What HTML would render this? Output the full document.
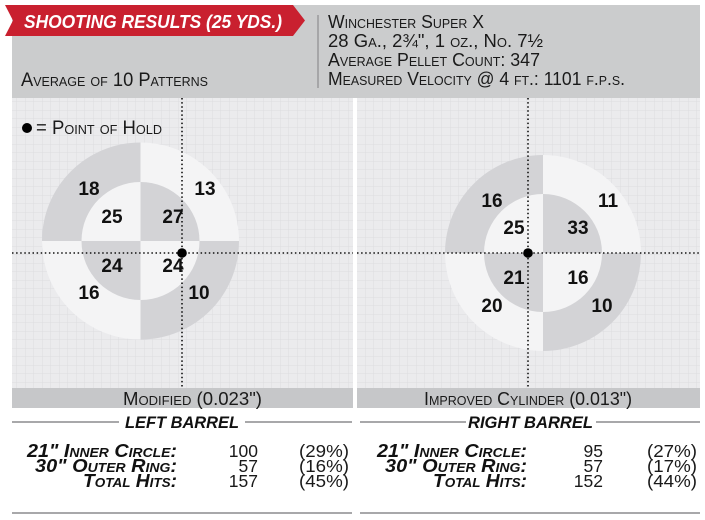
<!DOCTYPE html>
<html><head><meta charset="utf-8"><style>
html,body{margin:0;padding:0;background:#fff;}
svg{display:block;}
text{font-family:"Liberation Sans",Arial,sans-serif;}
.sc{font-variant:small-caps;}
</style></head><body>
<svg width="705" height="520" viewBox="0 0 705 520" xmlns="http://www.w3.org/2000/svg">
<defs>
<pattern id="grid" width="8.5" height="8.5" patternUnits="userSpaceOnUse">
<rect width="8.5" height="8.5" fill="#ebebed"/>
<path d="M8.5 0V8.5M0 8.5H8.5" stroke="#dcdce0" stroke-width="1" fill="none"/>
</pattern>
</defs>
<rect width="705" height="520" fill="#fff"/>
<!-- header gray -->
<rect x="12" y="5" width="688" height="93" fill="#cbcccd"/>
<polygon points="5,5 293,5 305,20.5 293,36 5,36 13,20.5" fill="#c9202f"/>
<text x="24" y="28" fill="#fff" font-weight="bold" font-style="italic" font-size="18" textLength="258" lengthAdjust="spacingAndGlyphs">SHOOTING RESULTS (25 YDS.)</text>
<text class="sc" x="21" y="86" fill="#1a1a1a" font-size="19" textLength="187" lengthAdjust="spacingAndGlyphs">Average of 10 Patterns</text>
<line x1="318" y1="15" x2="318" y2="88" stroke="#9a9a9c" stroke-width="1.5"/>
<g class="sc" fill="#1a1a1a" font-size="18.5">
<text x="328" y="28" textLength="156" lengthAdjust="spacingAndGlyphs">Winchester Super X</text>
<text x="328" y="47" textLength="215" lengthAdjust="spacingAndGlyphs">28 Ga., 2¾", 1 oz., No. 7½</text>
<text x="328" y="66" textLength="212" lengthAdjust="spacingAndGlyphs">Average Pellet Count: 347</text>
<text x="328" y="85" textLength="297" lengthAdjust="spacingAndGlyphs">Measured Velocity @ 4 ft.: 1101 f.p.s.</text>
</g>
<!-- grid panels -->
<rect x="12" y="98" width="341" height="290" fill="url(#grid)"/>
<rect x="357" y="98" width="343" height="290" fill="url(#grid)"/>
<!-- left target -->
<g>
<path d="M140.5 241 L42 241 A98.5 98.5 0 0 1 140.5 142.5 Z" fill="#d3d3d6"/>
<path d="M140.5 241 L140.5 142.5 A98.5 98.5 0 0 1 239 241 Z" fill="#f4f4f5"/>
<path d="M140.5 241 L239 241 A98.5 98.5 0 0 1 140.5 339.5 Z" fill="#d3d3d6"/>
<path d="M140.5 241 L140.5 339.5 A98.5 98.5 0 0 1 42 241 Z" fill="#f4f4f5"/>
<path d="M140.5 241 L81.5 241 A59 59 0 0 1 140.5 182 Z" fill="#f4f4f5"/>
<path d="M140.5 241 L140.5 182 A59 59 0 0 1 199.5 241 Z" fill="#d3d3d6"/>
<path d="M140.5 241 L199.5 241 A59 59 0 0 1 140.5 300 Z" fill="#f4f4f5"/>
<path d="M140.5 241 L140.5 300 A59 59 0 0 1 81.5 241 Z" fill="#d3d3d6"/>
</g>
<!-- right target -->
<g>
<path d="M543 253 L445 253 A98 98 0 0 1 543 155 Z" fill="#d3d3d6"/>
<path d="M543 253 L543 155 A98 98 0 0 1 641 253 Z" fill="#f4f4f5"/>
<path d="M543 253 L641 253 A98 98 0 0 1 543 351 Z" fill="#d3d3d6"/>
<path d="M543 253 L543 351 A98 98 0 0 1 445 253 Z" fill="#f4f4f5"/>
<path d="M543 253 L484 253 A59 59 0 0 1 543 194 Z" fill="#f4f4f5"/>
<path d="M543 253 L543 194 A59 59 0 0 1 602 253 Z" fill="#d3d3d6"/>
<path d="M543 253 L602 253 A59 59 0 0 1 543 312 Z" fill="#f4f4f5"/>
<path d="M543 253 L543 312 A59 59 0 0 1 484 253 Z" fill="#d3d3d6"/>
</g>
<!-- target numbers -->
<g font-weight="bold" font-size="19" fill="#111" text-anchor="middle">
<text x="89" y="195">18</text>
<text x="205" y="195">13</text>
<text x="112" y="223">25</text>
<text x="173" y="223">27</text>
<text x="112" y="272">24</text>
<text x="173" y="272">24</text>
<text x="89" y="299">16</text>
<text x="199" y="299">10</text>
<text x="492" y="207">16</text>
<text x="608" y="207">11</text>
<text x="514" y="234">25</text>
<text x="578" y="234">33</text>
<text x="514" y="284">21</text>
<text x="578" y="284">16</text>
<text x="492" y="312">20</text>
<text x="602" y="312">10</text>
</g>
<!-- dotted crosshairs -->
<g stroke="#111" stroke-width="1.6" stroke-dasharray="1.5 2.6" fill="none">
<line x1="182" y1="98" x2="182" y2="388"/>
<line x1="12" y1="253" x2="353" y2="253"/>
<line x1="528" y1="98" x2="528" y2="388"/>
<line x1="357" y1="253" x2="700" y2="253"/>
</g>
<circle cx="182" cy="253" r="4.8" fill="#000"/>
<circle cx="528" cy="253" r="4.8" fill="#000"/>
<!-- point of hold legend -->
<circle cx="27" cy="128" r="5" fill="#000"/>
<text class="sc" x="36" y="134" font-size="19" fill="#1a1a1a" textLength="126" lengthAdjust="spacingAndGlyphs">= Point of Hold</text>
<!-- label bars -->
<rect x="12" y="388" width="341" height="20" fill="#c6c7c9"/>
<rect x="357" y="388" width="343" height="20" fill="#c6c7c9"/>
<text class="sc" x="192.5" y="405" font-size="18.5" fill="#1a1a1a" text-anchor="middle" textLength="139" lengthAdjust="spacingAndGlyphs">Modified (0.023")</text>
<text class="sc" x="528" y="405" font-size="18.5" fill="#1a1a1a" text-anchor="middle" textLength="208" lengthAdjust="spacingAndGlyphs">Improved Cylinder (0.013")</text>
<!-- barrel headings -->
<g stroke="#8c8c8e" stroke-width="1.5">
<line x1="12" y1="422" x2="119" y2="422"/>
<line x1="245" y1="422" x2="352" y2="422"/>
<line x1="360" y1="422" x2="466" y2="422"/>
<line x1="596" y1="422" x2="700" y2="422"/>
<line x1="12" y1="513" x2="352" y2="513"/>
<line x1="360" y1="513" x2="700" y2="513"/>
</g>
<text x="125" y="428" font-size="17" font-weight="bold" font-style="italic" fill="#111" textLength="114" lengthAdjust="spacingAndGlyphs">LEFT BARREL</text>
<text x="468" y="428" font-size="17" font-weight="bold" font-style="italic" fill="#111" textLength="125" lengthAdjust="spacingAndGlyphs">RIGHT BARREL</text>
<!-- tables -->
<g class="sc" font-size="18.5" font-weight="bold" font-style="italic" fill="#111" text-anchor="end">
<text x="177" y="457" textLength="150" lengthAdjust="spacingAndGlyphs">21" Inner Circle:</text>
<text x="177" y="472" textLength="142" lengthAdjust="spacingAndGlyphs">30" Outer Ring:</text>
<text x="177" y="487" textLength="94" lengthAdjust="spacingAndGlyphs">Total Hits:</text>
<text x="527" y="457" textLength="150" lengthAdjust="spacingAndGlyphs">21" Inner Circle:</text>
<text x="527" y="472" textLength="142" lengthAdjust="spacingAndGlyphs">30" Outer Ring:</text>
<text x="527" y="487" textLength="94" lengthAdjust="spacingAndGlyphs">Total Hits:</text>
</g>
<g font-size="17.5" fill="#1a1a1a" text-anchor="end">
<text x="258" y="457">100</text>
<text x="258" y="472">57</text>
<text x="258" y="487">157</text>
<text x="349" y="457" textLength="50" lengthAdjust="spacingAndGlyphs">(29%)</text>
<text x="349" y="472" textLength="50" lengthAdjust="spacingAndGlyphs">(16%)</text>
<text x="349" y="487" textLength="50" lengthAdjust="spacingAndGlyphs">(45%)</text>
<text x="603" y="457">95</text>
<text x="603" y="472">57</text>
<text x="603" y="487">152</text>
<text x="697" y="457" textLength="50" lengthAdjust="spacingAndGlyphs">(27%)</text>
<text x="697" y="472" textLength="50" lengthAdjust="spacingAndGlyphs">(17%)</text>
<text x="697" y="487" textLength="50" lengthAdjust="spacingAndGlyphs">(44%)</text>
</g>
</svg>
</body></html>
